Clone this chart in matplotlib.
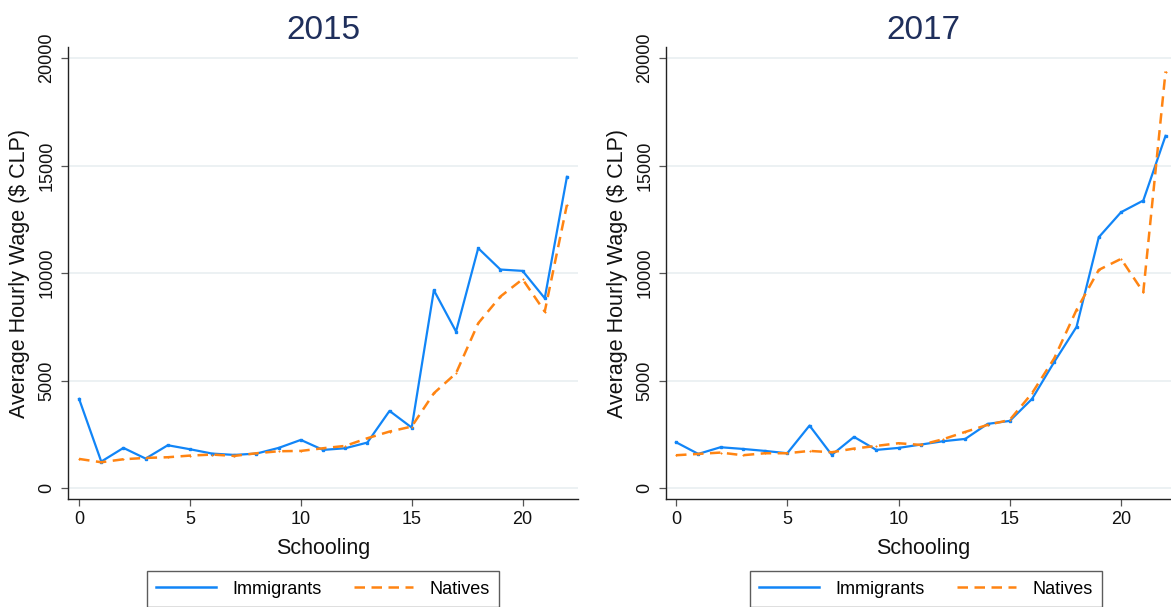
import matplotlib
matplotlib.use("Agg")
import matplotlib.pyplot as plt
from matplotlib.lines import Line2D

schooling = list(range(23))
imm_2015 = [4155, 1240, 1876, 1380, 2000, 1814, 1612, 1550, 1612, 1876, 2248, 1783, 1860,
            2124, 3597, 2822, 9209, 7287, 11163, 10171, 10109, 8837, 14481]
nat_2015 = [1364, 1209, 1349, 1411, 1442, 1519, 1566, 1504, 1628, 1721, 1736, 1860, 1969,
            2326, 2636, 2868, 4419, 5349, 7674, 8915, 9721, 8217, 13178]
imm_2017 = [2140, 1597, 1907, 1829, 1736, 1628, 2915, 1550, 2388, 1783, 1876, 2031, 2186,
            2295, 2992, 3132, 4155, 5876, 7504, 11674, 12837, 13380, 16388]
nat_2017 = [1535, 1597, 1659, 1535, 1628, 1628, 1736, 1674, 1845, 1969, 2093, 2016, 2279,
            2620, 2946, 3178, 4419, 6047, 8295, 10155, 10667, 9116, 19380]
years = ["2015", "2017"]
yticks = [0, 5000, 10000, 15000, 20000]
xticks = [0, 5, 10, 15, 20]

plt.rcParams['font.family'] = ['Liberation Sans', 'DejaVu Sans']

BLUE = '#1185f7'
ORANGE = '#ff8412'
TITLE = '#1f2f5c'

fig = plt.figure(figsize=(11.71, 6.07), dpi=100)
positions = [[68/1171, 1-499/607, (578-68)/1171, (499-47)/607],
             [666/1171, 1-499/607, (1180-666)/1171, (499-47)/607]]
xlims = [(-0.5, 22.5), (-0.45, 22.65)]
data = [(imm_2015, nat_2015), (imm_2017, nat_2017)]
legend_centers = [323/1171, 926/1171]

for i in range(2):
    ax = fig.add_axes(positions[i])
    imm, nat = data[i]
    ax.plot(schooling, imm, color=BLUE, lw=1.6, marker='s', ms=1.8, zorder=3)
    ax.plot(schooling, nat, color=ORANGE, lw=1.8, ls=(0, (4.2, 2.6)), marker='+', ms=2,
            mew=0.8, zorder=4)
    ax.set_xlim(*xlims[i])
    ax.set_ylim(-500, 20520)
    ax.set_yticks(yticks)
    ax.set_xticks(xticks)
    ax.set_yticklabels([str(v) for v in yticks], rotation=90, va='center')
    ax.tick_params(axis='both', labelsize=13, length=5, width=0.9, color='#555555',
                   labelcolor='#111111', pad=4)
    ax.grid(axis='y', color='#eaf0f2', lw=1.3, zorder=0)
    ax.set_axisbelow(True)
    for s in ['top', 'right']:
        ax.spines[s].set_visible(False)
    for s in ['left', 'bottom']:
        ax.spines[s].set_color('#222222')
        ax.spines[s].set_linewidth(1.0)
    ax.set_title(years[i], fontsize=24, color=TITLE, pad=6)
    ax.set_xlabel("Schooling", fontsize=15.5, color='#111111', labelpad=7)
    ax.set_ylabel("Average Hourly Wage ($ CLP)", fontsize=15.5, color='#111111', labelpad=6)

    handles = [Line2D([0], [0], color=BLUE, lw=1.8),
               Line2D([0], [0], color=ORANGE, lw=1.8, ls=(0, (4.2, 2.6)))]
    leg = fig.legend(handles, ["Immigrants", "Natives"], ncol=2, fontsize=13,
                     loc='center', bbox_to_anchor=(legend_centers[i], 1-589/607),
                     frameon=True, fancybox=False, edgecolor='#333333',
                     handlelength=3.3, handletextpad=0.9, columnspacing=1.8,
                     borderpad=0.5)
    leg.get_frame().set_linewidth(1.0)

fig.savefig("out.png", dpi=100, facecolor='white')
